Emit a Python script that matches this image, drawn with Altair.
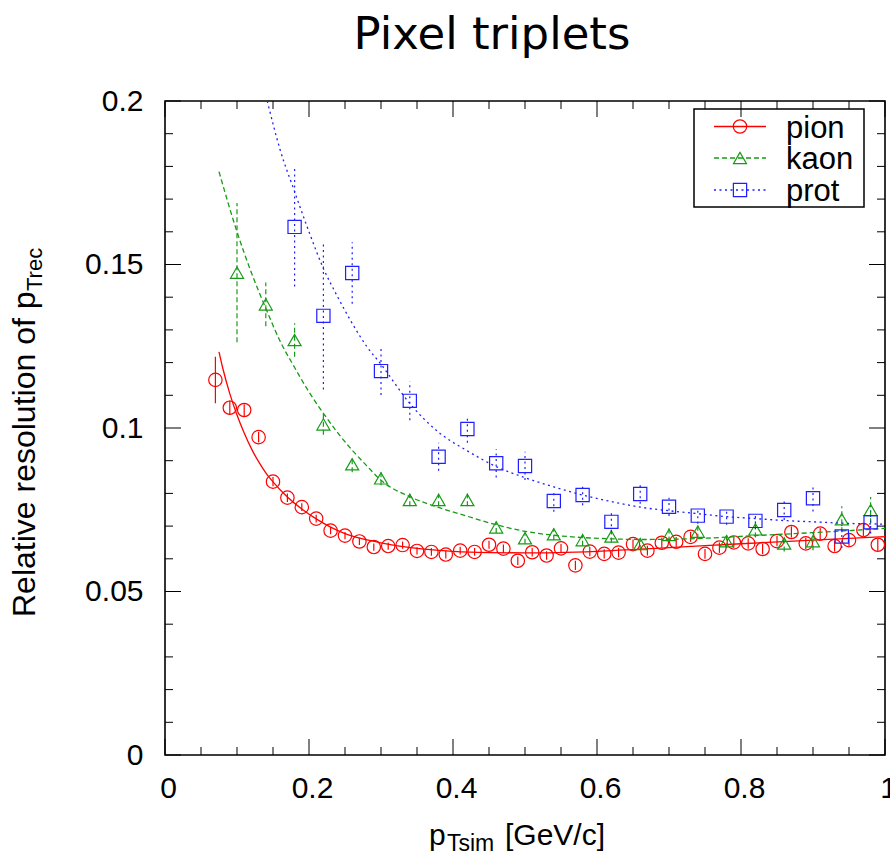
import altair as alt
import pandas as pd

# Relative pT resolution measured with pixel triplets, per species
pion_pt = [0.07, 0.09, 0.11, 0.13, 0.15, 0.17, 0.19, 0.21, 0.23, 0.25,
           0.27, 0.29, 0.31, 0.33, 0.35, 0.37, 0.39, 0.41, 0.43, 0.45,
           0.47, 0.49, 0.51, 0.53, 0.55, 0.57, 0.59, 0.61, 0.63, 0.65,
           0.67, 0.69, 0.71, 0.73, 0.75, 0.77, 0.79, 0.81, 0.83, 0.85,
           0.87, 0.89, 0.91, 0.93, 0.95, 0.97, 0.99]
pion_res = [0.1147, 0.1062, 0.1055, 0.0972, 0.0836, 0.0787, 0.0758, 0.0723, 0.0686, 0.0671,
            0.0653, 0.0636, 0.0639, 0.0642, 0.0624, 0.0621, 0.0613, 0.0625, 0.0621, 0.0643,
            0.0631, 0.0594, 0.0620, 0.0610, 0.0632, 0.0580, 0.0622, 0.0615, 0.0619, 0.0645,
            0.0625, 0.0649, 0.0652, 0.0667, 0.0615, 0.0634, 0.0650, 0.0647, 0.0630, 0.0654,
            0.0682, 0.0647, 0.0677, 0.0639, 0.0657, 0.0688, 0.0643]
pion_err = [0.0071, 0.0022, 0.0018, 0.0016, 0.0014, 0.0013, 0.0012, 0.0012, 0.0011, 0.0011,
            0.0011, 0.0011, 0.0011, 0.0011, 0.0011, 0.0012, 0.0012, 0.0012, 0.0012, 0.0012,
            0.0013, 0.0013, 0.0013, 0.0013, 0.0013, 0.0014, 0.0014, 0.0014, 0.0014, 0.0014,
            0.0015, 0.0015, 0.0015, 0.0015, 0.0015, 0.0016, 0.0016, 0.0016, 0.0016, 0.0016,
            0.0017, 0.0017, 0.0017, 0.0017, 0.0018, 0.0018, 0.0018]

kaon_pt = [0.10, 0.14, 0.18, 0.22, 0.26, 0.30, 0.34, 0.38, 0.42, 0.46,
           0.50, 0.54, 0.58, 0.62, 0.66, 0.70, 0.74, 0.78, 0.82, 0.86,
           0.90, 0.94, 0.98]
kaon_res = [0.1475, 0.1378, 0.1269, 0.1011, 0.0889, 0.0846, 0.0780, 0.0780, 0.0780, 0.0696,
            0.0663, 0.0675, 0.0657, 0.0668, 0.0645, 0.0673, 0.0683, 0.0654, 0.0690, 0.0647,
            0.0654, 0.0721, 0.0749]
kaon_err = [0.0213, 0.0067, 0.0051, 0.0032, 0.0024, 0.0021, 0.0019, 0.0019, 0.0019, 0.0017,
            0.0017, 0.0017, 0.0017, 0.0018, 0.0018, 0.0020, 0.0022, 0.0022, 0.0025, 0.0025,
            0.0028, 0.0040, 0.0040]

prot_pt = [0.18, 0.22, 0.26, 0.30, 0.34, 0.38, 0.42, 0.46, 0.50, 0.54,
           0.58, 0.62, 0.66, 0.70, 0.74, 0.78, 0.82, 0.86, 0.90, 0.94,
           0.98]
prot_res = [0.1615, 0.1343, 0.1474, 0.1174, 0.1083, 0.0912, 0.0997, 0.0892, 0.0884, 0.0777,
            0.0795, 0.0713, 0.0798, 0.0759, 0.0732, 0.0729, 0.0716, 0.0749, 0.0785, 0.0668,
            0.0712]
prot_err = [0.0182, 0.0225, 0.0094, 0.0073, 0.0059, 0.0043, 0.0042, 0.0043, 0.0043, 0.0033,
            0.0031, 0.0030, 0.0030, 0.0028, 0.0025, 0.0025, 0.0025, 0.0030, 0.0040, 0.0035,
            0.0035]

# Fitted resolution curves
pion_fit_pt = [0.075, 0.08, 0.09, 0.10, 0.11, 0.12, 0.13, 0.14, 0.15, 0.17, 0.19, 0.21,
               0.23, 0.25, 0.30, 0.35, 0.40, 0.45, 0.50, 0.60, 0.70, 0.80, 0.90, 1.00]
pion_fit_res = [0.1233, 0.1185, 0.1105, 0.1040, 0.0985, 0.0937, 0.0897, 0.0863, 0.0835,
                0.0789, 0.0752, 0.0722, 0.0697, 0.0677, 0.0649, 0.0632, 0.0623, 0.0619,
                0.0618, 0.0623, 0.0634, 0.0646, 0.0657, 0.0668]
kaon_fit_pt = [0.075, 0.10, 0.12, 0.14, 0.16, 0.18, 0.20, 0.22, 0.24, 0.26, 0.28, 0.30,
               0.34, 0.38, 0.42, 0.46, 0.50, 0.54, 0.58, 0.62, 0.66, 0.74, 0.82, 0.90, 1.00]
kaon_fit_res = [0.1784, 0.1600, 0.1475, 0.1366, 0.1265, 0.1185, 0.1110, 0.1045, 0.0985,
                0.0932, 0.0885, 0.0840, 0.0790, 0.0757, 0.0730, 0.0704, 0.0684, 0.0672,
                0.0665, 0.0661, 0.0659, 0.0662, 0.0671, 0.0680, 0.0693]
prot_fit_pt = [0.142, 0.16, 0.18, 0.20, 0.22, 0.24, 0.26, 0.28, 0.30, 0.34, 0.38, 0.42,
               0.46, 0.50, 0.54, 0.58, 0.62, 0.66, 0.70, 0.74, 0.78, 0.82, 0.86, 0.90,
               0.94, 1.00]
prot_fit_res = [0.2000, 0.1850, 0.1723, 0.1600, 0.1488, 0.1400, 0.1320, 0.1250, 0.1195,
                0.1075, 0.0987, 0.0930, 0.0882, 0.0848, 0.0820, 0.0795, 0.0775, 0.0758,
                0.0747, 0.0738, 0.0729, 0.0723, 0.0717, 0.0713, 0.0709, 0.0706]

species = ["pion", "kaon", "prot"]

# Tick positions
x_major = [0.0, 0.2, 0.4, 0.6, 0.8, 1.0]
x_minor = [0.05, 0.1, 0.15, 0.25, 0.3, 0.35, 0.45, 0.5, 0.55, 0.65, 0.7, 0.75, 0.85, 0.9, 0.95]
y_major = [0.0, 0.05, 0.1, 0.15, 0.2]
y_minor = [0.01, 0.02, 0.03, 0.04, 0.06, 0.07, 0.08, 0.09, 0.11, 0.12, 0.13, 0.14,
           0.16, 0.17, 0.18, 0.19]

W, H = 720, 654
FONT = "Liberation Sans"

style = {
    "pion": dict(color="#ff0000", shape="circle", size=180, dash=None),
    "kaon": dict(color="#179b17", shape="triangle-up", size=170, dash=[5, 3]),
    "prot": dict(color="#1f1fff", shape="square", size=175, dash=[2, 3.5]),
}
measured = {
    "pion": (pion_pt, pion_res, pion_err),
    "kaon": (kaon_pt, kaon_res, kaon_err),
    "prot": (prot_pt, prot_res, prot_err),
}
fitted = {
    "pion": (pion_fit_pt, pion_fit_res),
    "kaon": (kaon_fit_pt, kaon_fit_res),
    "prot": (prot_fit_pt, prot_fit_res),
}

x_scale = alt.Scale(domain=[0, 1], nice=False, zero=False)
y_scale = alt.Scale(domain=[0, 0.2], nice=False, zero=False)
x_axis = alt.Axis(values=x_major, format="~g", title=None, grid=False, ticks=False,
                  domain=False, labelFont=FONT, labelFontSize=30, labelColor="black",
                  labelPadding=42, labelBaseline="alphabetic", labelFlush=False,
                  labelOffset=3, labelOverlap=False)
y_axis = alt.Axis(values=y_major, format="~g", title=None, grid=False, ticks=False,
                  domain=False, labelFont=FONT, labelFontSize=30, labelColor="black",
                  labelPadding=22, labelBaseline="middle", labelFlush=False,
                  labelOverlap=False)


def xq(field):
    return alt.X(field, type="quantitative", scale=x_scale, axis=x_axis)


def yq(field):
    return alt.Y(field, type="quantitative", scale=y_scale, axis=y_axis)


def dashed(kw, dash):
    if dash is not None:
        kw["strokeDash"] = dash
    return kw


layers = []

for name in species:
    st = style[name]
    pt, res, err = measured[name]
    df = pd.DataFrame({"pt": pt, "res": res, "err": err})
    df["lo"] = df["res"] - df["err"]
    df["hi"] = df["res"] + df["err"]
    fpt, fres = fitted[name]
    fit = pd.DataFrame({"pt": fpt, "res": fres})

    layers.append(
        alt.Chart(fit).mark_line(**dashed(dict(color=st["color"], strokeWidth=1.3,
                                               interpolate="monotone", clip=True), st["dash"]))
        .encode(x=xq("pt"), y=yq("res"))
    )
    layers.append(
        alt.Chart(df).mark_rule(**dashed(dict(color=st["color"], strokeWidth=1.2, clip=True),
                                         st["dash"]))
        .encode(x=xq("pt"), y=yq("lo"), y2=alt.Y2("hi"))
    )
    layers.append(
        alt.Chart(df).mark_point(shape=st["shape"], filled=False, size=st["size"],
                                 strokeWidth=1.2, color=st["color"], opacity=1, clip=True)
        .encode(x=xq("pt"), y=yq("res"))
    )

# Key box
key_box = pd.DataFrame({"k": [0]})
layers.append(
    alt.Chart(key_box).mark_rect(fill="white", stroke="black", strokeWidth=1.5)
    .encode(x=alt.value(529), x2=alt.value(699), y=alt.value(8), y2=alt.value(106))
)
key_rows = [25.5, 57.0, 89.0]
for name, ry in zip(species, key_rows):
    st = style[name]
    kd = pd.DataFrame({"name": [name]})
    layers.append(
        alt.Chart(kd).mark_rule(**dashed(dict(color=st["color"], strokeWidth=1.3), st["dash"]))
        .encode(x=alt.value(549), x2=alt.value(601), y=alt.value(ry))
    )
    layers.append(
        alt.Chart(kd).mark_point(shape=st["shape"], filled=False, size=st["size"],
                                 strokeWidth=1.2, color=st["color"], opacity=1)
        .encode(x=alt.value(575), y=alt.value(ry))
    )
    layers.append(
        alt.Chart(kd).mark_text(font=FONT, fontSize=31, align="left", baseline="alphabetic",
                                color="black")
        .encode(x=alt.value(621), y=alt.value(ry + 11), text="name:N")
    )

# Inward ticks on all four sides of the frame
for vals, length in ((x_major, 16), (x_minor, 8)):
    td = pd.DataFrame({"v": vals})
    layers.append(alt.Chart(td).mark_rule(color="black", strokeWidth=1)
                  .encode(x=xq("v"), y=alt.value(H), y2=alt.value(H - length)))
    layers.append(alt.Chart(td).mark_rule(color="black", strokeWidth=1)
                  .encode(x=xq("v"), y=alt.value(0), y2=alt.value(length)))
for vals, length in ((y_major, 16), (y_minor, 8)):
    td = pd.DataFrame({"v": vals})
    layers.append(alt.Chart(td).mark_rule(color="black", strokeWidth=1)
                  .encode(y=yq("v"), x=alt.value(0), x2=alt.value(length)))
    layers.append(alt.Chart(td).mark_rule(color="black", strokeWidth=1)
                  .encode(y=yq("v"), x=alt.value(W), x2=alt.value(W - length)))


def label(txt, x, y, size, angle=0, align="left", font=FONT):
    kw = dict(font=font, fontSize=size, align=align, baseline="alphabetic", color="black")
    if angle:
        kw["angle"] = angle
    return (alt.Chart(pd.DataFrame({"t": [txt]})).mark_text(**kw)
            .encode(x=alt.value(x), y=alt.value(y), text="t:N"))


# Title and axis titles (with subscripts)
layers.append(label("Pixel triplets", 327, -52, 45, align="center", font="DejaVu Sans"))
layers.append(label("p", 264, 744, 30))
layers.append(label("Tsim", 282, 750, 23))
layers.append(label("[GeV/c]", 340, 744, 30))
layers.append(label("Relative resolution of p", -130, 516, 32, angle=270))
layers.append(label("Trec", -123, 190, 22, angle=270))

chart = (
    alt.layer(*layers)
    .properties(width=W, height=H, background="white",
                autosize=alt.AutoSizeParams(type="none"),
                padding={"left": 165, "top": 101, "right": 5, "bottom": 100})
    .configure_view(stroke="black", strokeWidth=1.6)
)

chart.save("out.html", embed_options={"renderer": "svg", "actions": False})
